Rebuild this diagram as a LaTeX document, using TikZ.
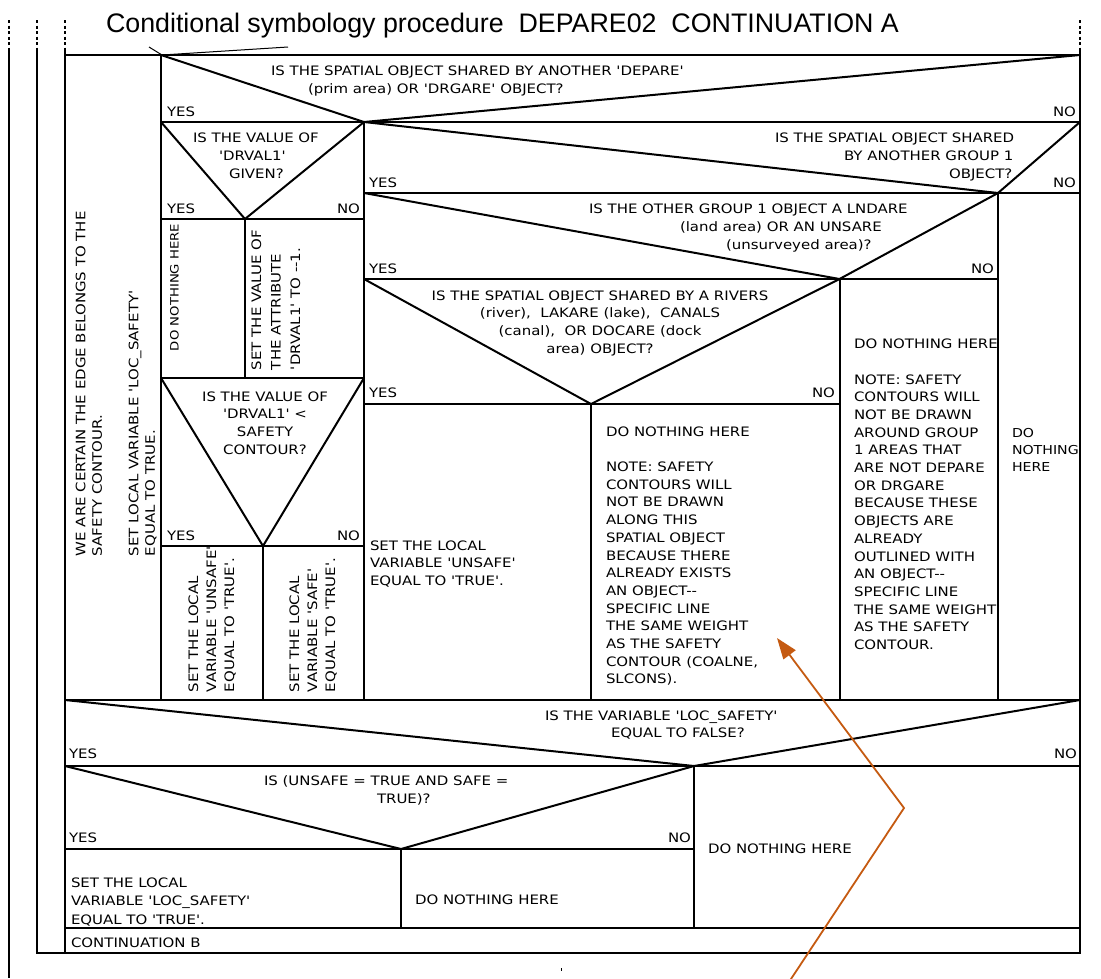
\documentclass[tikz,border=0pt]{standalone}
\usepackage{fontspec}
\setmainfont{Liberation Sans}
\newfontfamily\cadfont[FakeStretch=1.15]{DejaVu Sans}
\usetikzlibrary{arrows.meta}
\definecolor{callout}{RGB}{197,90,17}
\newcommand\cadsize[1]{\cadfont\fontsize{13}{#1}\selectfont}
\tikzset{
  cad/.style={font=\cadsize{17.7}, inner sep=0pt},
  yes/.style={cad, anchor=base west},
  no/.style={cad, anchor=base east},
  upright/.style={cad, rotate=90, align=left, anchor=north west},
  cell/.style={cad, align=left, anchor=north west}
}
\begin{document}
\begin{tikzpicture}[x=1pt,y=-1pt, line width=2pt]
\useasboundingbox (0,0) rectangle (1101,978);

\node[anchor=base west, inner sep=0pt, font=\fontsize{26.8}{30}\selectfont] (head) at (105,32)
  {Conditional symbology procedure\ \ DEPARE02\ \ CONTINUATION A};

\foreach \x in {9,37,65,1080}
\draw[line width=1.4pt, dash pattern=on 3pt off 2.5pt] (\x,20) -- (\x,50);

\draw (9,50) -- (9,978);
\draw (37,50) -- (37,953) -- (1080,953) -- (1080,50);
\draw (65,50) -- (65,953);
\draw (65,55) -- (1080,55);
\draw[line width=1pt] (149,47) -- (162,55) -- (288,47);

\foreach \y/\xa/\xb in {122/161/1080, 193/364/1080, 219/161/364, 279/364/998, 378/161/364,
  404/364/839.5, 546/161/364, 700/65/1080, 766/65/1080, 849/65/694, 928/65/1080}
\draw (\xa,\y) -- (\xb,\y);

\foreach \x/\ya/\yb in {161/55/700, 245/219/378, 263/546/700, 364/122/700, 591/404/700,
  839.5/279/700, 998/193/700, 401/849/928, 694/766/928}
\draw (\x,\ya) -- (\x,\yb);

\foreach \xa/\ya/\xm/\ym/\xb in {161/55/364/122/1080, 161/122/245/219/364, 364/122/998/193/1080,
  364/193/839.5/279/998, 364/279/591/404/839.5, 161/378/263/546/364, 65/700/694/766/1080,
  65/766/401/849/694}
\draw (\xa,\ya) -- (\xm,\ym) -- (\xb,\ya);

\foreach \x/\y [count=\i] in {166/116, 166/213, 368/187, 368/273, 368/397, 166/540, 68/758, 68/842}
\node[yes] (yes\i) at (\x,\y) {YES};
\foreach \x/\y [count=\i] in {1077/116, 361/213, 1077/187, 995/273, 836/397, 361/540, 1078/758, 692/842}
\node[no] (no\i) at (\x,\y) {NO};

\foreach \x/\y/\t [count=\i] in {
  270/75/{IS THE SPATIAL OBJECT SHARED BY ANOTHER 'DEPARE'},
  307/93/{(prim area) OR 'DRGARE' OBJECT?},
  192/142/{IS THE VALUE OF}, 218/160/{'DRVAL1'}, 228/178/{GIVEN?},
  774/142/{IS THE SPATIAL OBJECT SHARED}, 843/160/{BY ANOTHER GROUP 1}, 948/178/{OBJECT?},
  588/213/{IS THE OTHER GROUP 1 OBJECT A LNDARE}, 679/231.5/{(land area) OR AN UNSARE},
  725/249/{(unsurveyed area)?},
  544/720/{IS THE VARIABLE 'LOC\_SAFETY'}, 610/737.5/{EQUAL TO FALSE?},
  263/785/{IS (UNSAFE = TRUE AND SAFE =}, 376/803/{TRUE)?},
  414/904/{DO NOTHING HERE}, 707/853/{DO NOTHING HERE}, 70/947.5/{CONTINUATION B}}
\node[cad, anchor=base west] (line\i) at (\x,\y) {\t};

\node[cad, align=center, anchor=north] (rivers) at (600,289.5)
  {IS THE SPATIAL OBJECT SHARED BY A RIVERS\\(river),\ \ LAKARE (lake),\ \ CANALS\\
   (canal),\ \ OR DOCARE (dock\\area) OBJECT?};
\node[cad, align=center, anchor=north] (safety) at (265,390.5)
  {IS THE VALUE OF\\'DRVAL1' <\\SAFETY\\CONTOUR?};

\node[cell] (unsafe) at (369,539.5) {SET THE LOCAL\\VARIABLE 'UNSAFE'\\EQUAL TO 'TRUE'.};
\node[cell] (along) at (605,425.5) {DO NOTHING HERE\\[17.7pt]NOTE: SAFETY\\CONTOURS WILL\\
  NOT BE DRAWN\\ALONG THIS\\SPATIAL OBJECT\\BECAUSE THERE\\ALREADY EXISTS\\AN OBJECT--\\
  SPECIFIC LINE\\THE SAME WEIGHT\\AS THE SAFETY\\CONTOUR (COALNE,\\SLCONS).};
\node[cell] (around) at (853,338) {DO NOTHING HERE\\[17.7pt]NOTE: SAFETY\\CONTOURS WILL\\
  NOT BE DRAWN\\AROUND GROUP\\1 AREAS THAT\\ARE NOT DEPARE\\OR DRGARE\\BECAUSE THESE\\
  OBJECTS ARE\\ALREADY\\OUTLINED WITH\\AN OBJECT--\\SPECIFIC LINE\\THE SAME WEIGHT\\
  AS THE SAFETY\\CONTOUR.};
\node[cell, font=\cadfont\fontsize{12.3}{17}\selectfont] (none) at (1011,427) {DO\\NOTHING\\HERE};
\node[cell, font=\cadsize{18.5}] (locsafe) at (70,876.5) {SET THE LOCAL\\VARIABLE 'LOC\_SAFETY'\\EQUAL TO 'TRUE'.};

\node[upright, font=\cadsize{16.5}] (certain) at (74.75,557)
  {WE ARE CERTAIN THE EDGE BELONGS TO THE\\SAFETY CONTOUR.\\[20pt]SET LOCAL VARIABLE 'LOC\_SAFETY'\\EQUAL TO TRUE.};
\node[upright, font=\cadfont\fontsize{11.5}{16}\selectfont] (given) at (169,352) {DO NOTHING HERE};
\node[upright, font=\cadsize{19.5}] (minus) at (250.5,371) {SET THE VALUE OF\\THE ATTRIBUTE\\'DRVAL1' TO --1.};
\node[upright, font=\cadsize{18}] (setunsafe) at (187.5,693) {SET THE LOCAL\\VARIABLE 'UNSAFE'\\EQUAL TO 'TRUE'.};
\node[upright, font=\cadsize{18}] (setsafe) at (288.5,693) {SET THE LOCAL\\VARIABLE 'SAFE'\\EQUAL TO 'TRUE'.};

\fill (560.5,968) rectangle (562,971);

\coordinate (tail) at (789,982);
\coordinate (bend) at (904,808);
\coordinate (tip) at (777,638);
\draw[callout, line width=1.8pt, -{Triangle[length=21pt,width=15pt]}] (tail) -- (bend) -- (tip);

\end{tikzpicture}
\end{document}
